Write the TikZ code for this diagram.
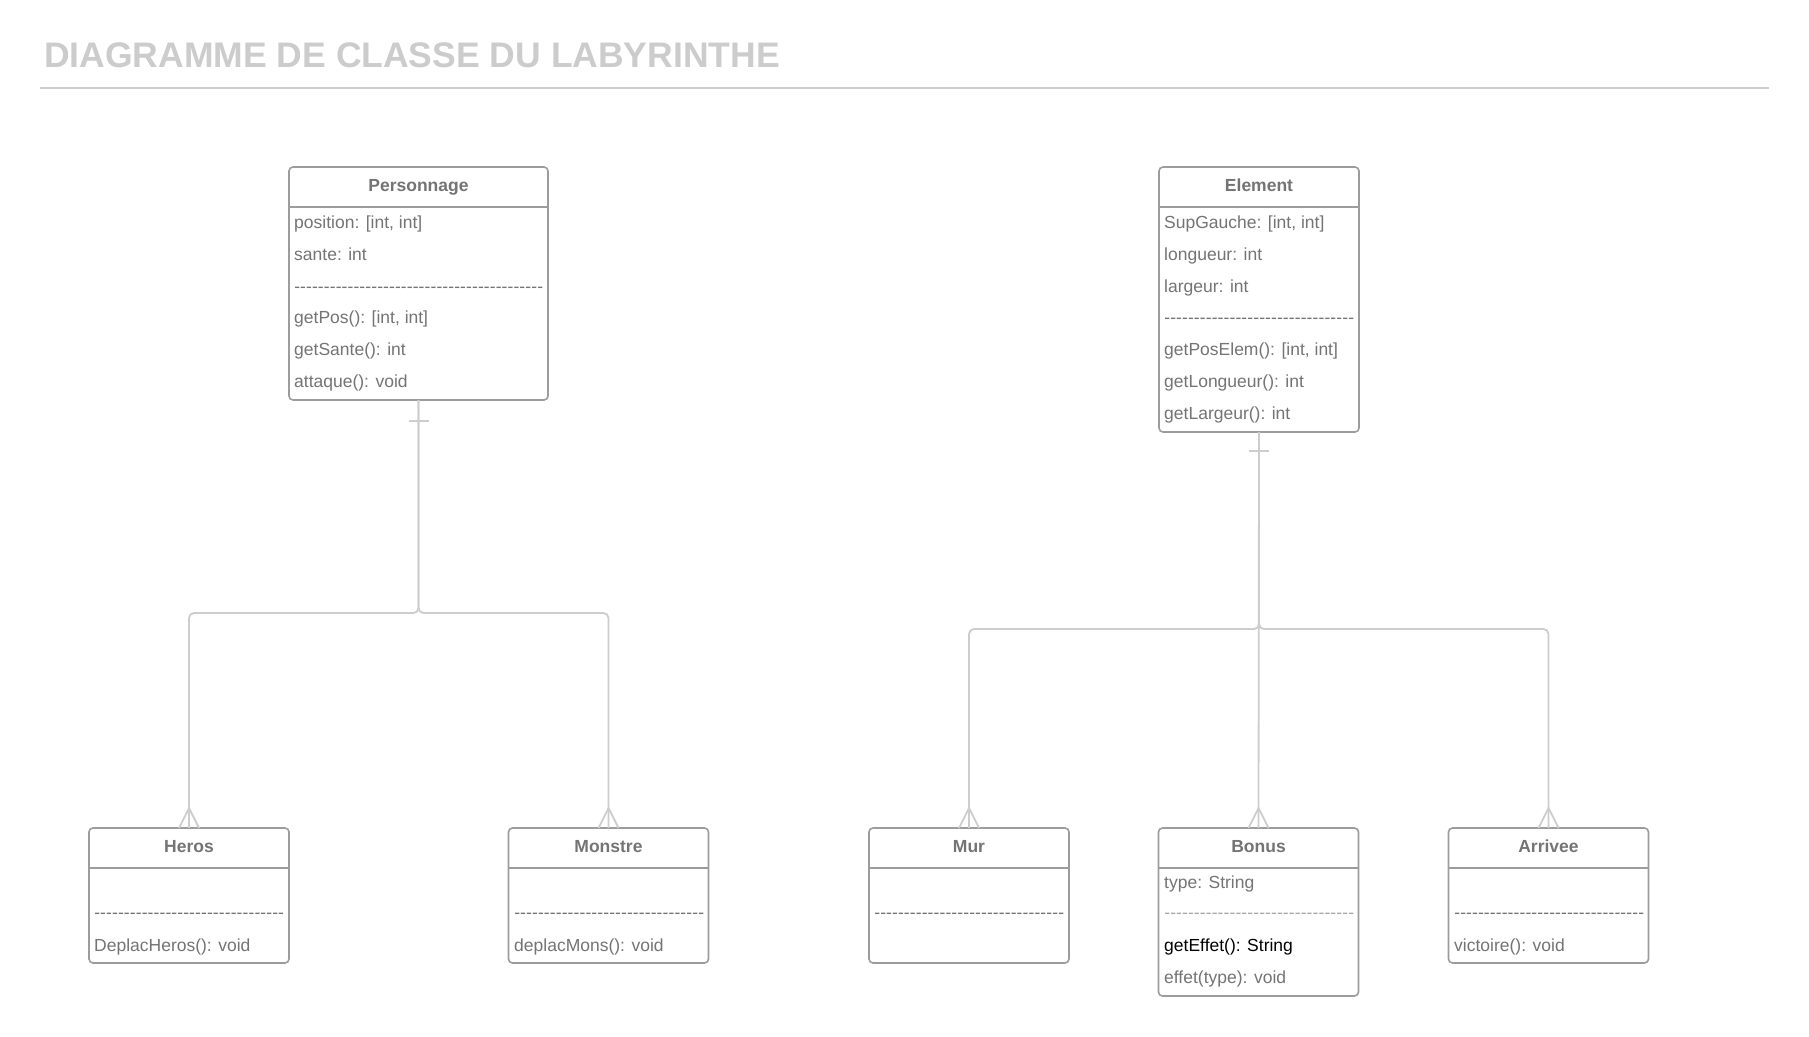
\documentclass[tikz,border=0pt]{standalone}
\usepackage{fontspec}
\setmainfont{Liberation Sans}
\definecolor{boxgray}{HTML}{9C9C9C}
\definecolor{txtgray}{HTML}{747474}
\definecolor{lngray}{HTML}{CDCDCD}
\definecolor{titlegray}{HTML}{CCCCCC}
\definecolor{dashlight}{HTML}{A8A8A8}
\newcommand{\rowfont}{\fontsize{17.5}{20}\selectfont}
\newcommand{\headfont}{\fontsize{17.5}{20}\selectfont\bfseries}
\newcommand{\dashfill}[1]{\hbox to #1{\xleaders\hbox{-}\hfill}}
\tikzset{
  classbox/.style={draw=boxgray, line width=1.6pt, rounded corners=4pt, inner sep=0pt, outer sep=0pt, fill=white},
  boxline/.style={draw=boxgray, line width=1.6pt},
  rowtext/.style={anchor=base west, inner sep=0pt, text=txtgray, font=\rowfont},
  headtext/.style={anchor=base, inner sep=0pt, text=txtgray, font=\headfont},
  conn/.style={draw=lngray, line width=1.8pt},
}
\begin{document}
\begin{tikzpicture}[x=1pt, y=-1pt]
\useasboundingbox[fill=white] (0,0) rectangle (1809,1036);

% title
\node[anchor=base west, inner sep=0pt, text=titlegray, font=\fontsize{35.5}{40}\selectfont\bfseries] (title) at (44,67) {DIAGRAMME DE CLASSE DU LABYRINTHE};
\coordinate (tl) at (40,88);
\coordinate (tr) at (1769,88);
\draw[draw=lngray, line width=2pt] (tl) -- (tr);

% boxes
\node[classbox, minimum width=259pt, minimum height=233pt] (pers) at (418.5,283.5) {};
\node[classbox, minimum width=200pt, minimum height=265pt] (elem) at (1259,299.5) {};
\node[classbox, minimum width=200pt, minimum height=135pt] (heros) at (189,895.5) {};
\node[classbox, minimum width=200pt, minimum height=135pt] (mons) at (608.5,895.5) {};
\node[classbox, minimum width=200pt, minimum height=135pt] (mur) at (969,895.5) {};
\node[classbox, minimum width=200pt, minimum height=168pt] (bonus) at (1258.5,912) {};
\node[classbox, minimum width=200pt, minimum height=135pt] (arr) at (1548.5,895.5) {};

% header separators
\foreach \b in {pers,elem,heros,mons,mur,bonus,arr}{
  \draw[boxline] ([yshift=-40pt]\b.north west) -- ([yshift=-40pt]\b.north east);
}

% connectors
\coordinate (pj) at (418.5,613);
\coordinate (ej) at (1259,629);
\draw[conn, rounded corners=5pt] (pers.south) -- (pj) -- (heros.north |- pj) -- (heros.north);
\draw[conn, rounded corners=5pt] (pers.south) -- (pj) -- (mons.north |- pj) -- (mons.north);
\draw[conn, rounded corners=5pt] (elem.south) -- (ej) -- (mur.north |- ej) -- (mur.north);
\draw[conn] (elem.south) -- (bonus.north);
\draw[conn, rounded corners=5pt] (elem.south) -- (ej) -- (arr.north |- ej) -- (arr.north);
% one marks
\draw[conn] ([xshift=-10pt,yshift=-21pt]pers.south) -- ([xshift=10pt,yshift=-21pt]pers.south);
\draw[conn] ([xshift=-10pt,yshift=-19pt]elem.south) -- ([xshift=10pt,yshift=-19pt]elem.south);
% crow's feet
\foreach \b in {heros,mons,mur,bonus,arr}{
  \draw[conn] ([xshift=-10pt]\b.north) -- ([yshift=20pt]\b.north) -- ([xshift=10pt]\b.north);
}

% Personnage
\node[headtext] (pers-h) at (418.5,191) {Personnage};
\node[rowtext] (pers-1) at (294,228) {position: [int, int]};
\node[rowtext] (pers-2) at (294,260) {sante: int};
\node[rowtext] (pers-3) at (294,292) {\dashfill{249pt}};
\node[rowtext] (pers-4) at (294,323.5) {getPos(): [int, int]};
\node[rowtext] (pers-5) at (294,355) {getSante(): int};
\node[rowtext] (pers-6) at (294,387) {attaque(): void};

% Element
\node[headtext] (elem-h) at (1259,191) {Element};
\node[rowtext] (elem-1) at (1164,228) {SupGauche: [int, int]};
\node[rowtext] (elem-2) at (1164,260) {longueur: int};
\node[rowtext] (elem-3) at (1164,292) {largeur: int};
\node[rowtext] (elem-4) at (1164,323.5) {\dashfill{190pt}};
\node[rowtext] (elem-5) at (1164,355) {getPosElem(): [int, int]};
\node[rowtext] (elem-6) at (1164,387) {getLongueur(): int};
\node[rowtext] (elem-7) at (1164,419) {getLargeur(): int};

% Heros
\node[headtext] (heros-h) at (189,852) {Heros};
\node[rowtext] (heros-1) at (94,918) {\dashfill{190pt}};
\node[rowtext] (heros-2) at (94,951.5) {DeplacHeros(): void};

% Monstre
\node[headtext] (mons-h) at (608.5,852) {Monstre};
\node[rowtext] (mons-1) at (514,918) {\dashfill{190pt}};
\node[rowtext] (mons-2) at (514,951.5) {deplacMons(): void};

% Mur
\node[headtext] (mur-h) at (969,852) {Mur};
\node[rowtext] (mur-1) at (874,918) {\dashfill{190pt}};

% Bonus
\node[headtext] (bonus-h) at (1258.5,852) {Bonus};
\node[rowtext] (bonus-1) at (1164,888) {type: String};
\node[rowtext, text=dashlight] (bonus-2) at (1164,918) {\dashfill{190pt}};
\node[rowtext, text=black] (bonus-3) at (1164,951.5) {getEffet(): String};
\node[rowtext] (bonus-4) at (1164,983) {effet(type): void};

% Arrivee
\node[headtext] (arr-h) at (1548.5,852) {Arrivee};
\node[rowtext] (arr-1) at (1454,918) {\dashfill{190pt}};
\node[rowtext] (arr-2) at (1454,951.5) {victoire(): void};
\end{tikzpicture}
\end{document}
